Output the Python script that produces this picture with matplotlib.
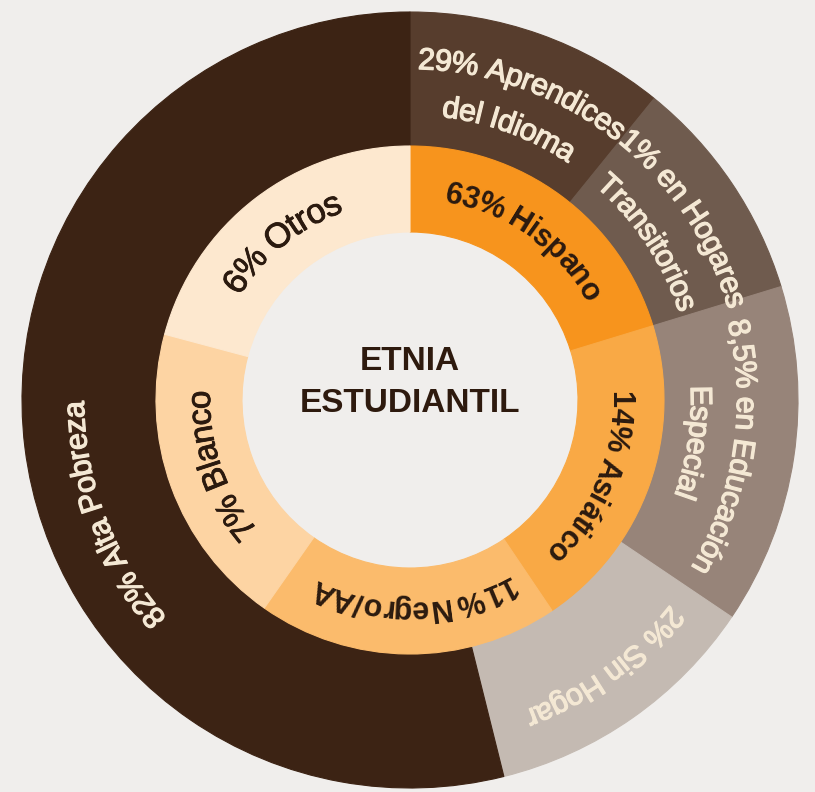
import numpy as np
import matplotlib
matplotlib.use("Agg")
from matplotlib import pyplot as plt
from matplotlib import font_manager
from matplotlib import patheffects as pe
from matplotlib.ft2font import FT2Font

DPI = 100

# anillo exterior (grados, sentido horario desde arriba)
outer_labels = [["29% Aprendices", "del Idioma"],
                ["1% en Hogares", "Transitorios"],
                ["8,5% en Educación", "Especial"],
                ["2% Sin Hogar"],
                ["82% Alta Pobreza"]]
outer_arc = [39, 34, 51, 42, 194]
outer_colors = ['#573d2d', '#6f5b4e', '#978479', '#c4bab2', '#3c2314']

# anillo interior
inner_labels = ["63% Hispano", "14% Asiático", "11% Negro/AA", "7% Blanco", "6% Otros"]
inner_arc = [73, 73, 69, 70, 75]
inner_colors = ['#f7941d', '#f9a945', '#fbbb6c', '#fdd4a3', '#fde8cf']

center_text = "ETNIA\nESTUDIANTIL"

# posicion de los textos (angulo central, radios de cada linea)
outer_ang = [20, 56.5, 98.5, 144, 249]
outer_rad = [[342, 296], [342, 294], [338, 292], [342], [337]]
inner_ang = [35.5, 113, 179, 251, 321]
inner_size = [22, 22, 22, 24, 25]
inner_weight = ['bold', 'bold', 'bold', 'normal', 'normal']

bg = '#f0eeec'
txt_light = '#f4e8d4'
txt_dark = '#2b1a0f'


def arc_text(ax, s, theta_mid, r_mid, size, weight, color, stroke=0.0):
    fp = font_manager.FontProperties(family='Liberation Sans', weight=weight, size=size)
    font = FT2Font(font_manager.findfont(fp))
    font.set_size(size, 72)
    adv = np.array([font.load_char(ord(c)).linearHoriAdvance / 65536 * DPI / 72 for c in s])
    size_px = size * DPI / 72
    r_base = r_mid - 0.36 * size_px
    start = theta_mid - np.degrees(adv.sum() / 2 / r_mid)
    offs = np.cumsum(adv) - adv / 2
    fx = [pe.withStroke(linewidth=stroke, foreground=color)] if stroke else None
    for c, o in zip(s, offs):
        th = start + np.degrees(o / r_mid)
        t = np.radians(th)
        ax.text(r_base * np.sin(t), r_base * np.cos(t), c, fontproperties=fp, color=color,
                ha='center', va='baseline', rotation=-th, rotation_mode='anchor',
                path_effects=fx)


fig = plt.figure(figsize=(8.15, 7.92), dpi=DPI, facecolor=bg)
ax = fig.add_axes([0, 0, 1, 1])
ax.set_facecolor(bg)

w_out, _ = ax.pie(outer_arc, radius=388, startangle=90, counterclock=False,
                  colors=outer_colors, wedgeprops=dict(width=134, linewidth=0.8))
w_in, _ = ax.pie(inner_arc, radius=254, startangle=90, counterclock=False,
                 colors=inner_colors, wedgeprops=dict(width=86, linewidth=0.8))
for w, c in zip(w_out + w_in, outer_colors + inner_colors):
    w.set_edgecolor(c)

for lines, a, rs in zip(outer_labels, outer_ang, outer_rad):
    for s, r in zip(lines, rs):
        arc_text(ax, s, a, r, 22, 'normal', txt_light, stroke=0.9)

for s, a, sz, wt in zip(inner_labels, inner_ang, inner_size, inner_weight):
    arc_text(ax, s, a, 212, sz, wt, txt_dark, stroke=0.6 if wt == 'normal' else 0.0)

ax.text(0, 17.5, center_text, ha='center', va='center', fontsize=24, fontweight='bold',
        family='Liberation Sans', color='#2e1a0e', linespacing=1.42)

ax.set_xlim(-410, 405)
ax.set_ylim(-392, 400)
ax.set_aspect('equal')
ax.axis('off')

fig.savefig('out.png', dpi=DPI, facecolor=bg)
